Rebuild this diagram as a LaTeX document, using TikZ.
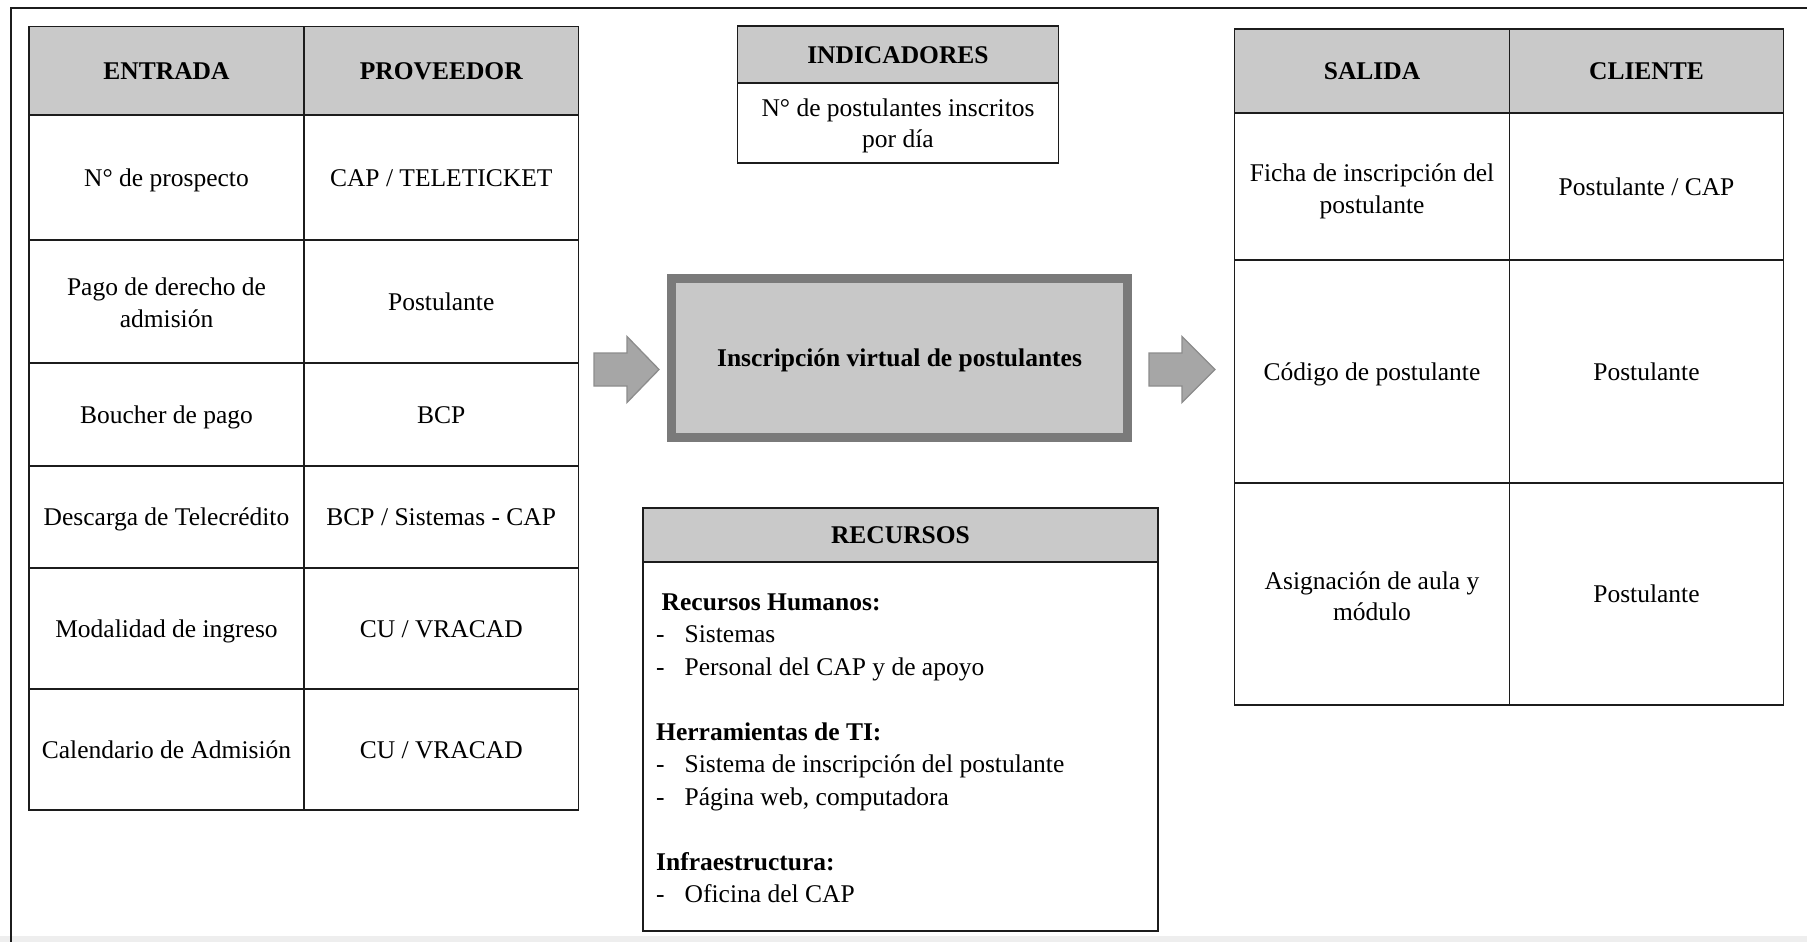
\documentclass[tikz,border=0pt]{standalone}
\usepackage{fontspec}
\setmainfont{LiberationSerif}[Extension=.ttf, UprightFont=*-Regular, BoldFont=*-Bold,
  ItalicFont=*-Italic, BoldItalicFont=*-BoldItalic]
\definecolor{headgray}{RGB}{201,201,201}
\definecolor{procfill}{RGB}{200,200,200}
\definecolor{procline}{RGB}{122,122,122}
\definecolor{arrfill}{RGB}{166,166,166}
\definecolor{arrline}{RGB}{140,140,140}
\definecolor{stripgray}{RGB}{238,238,238}
\definecolor{ink}{RGB}{28,28,28}
% line strut with the ascent/descent of the serif face, so every line is centred alike
\newcommand{\ls}{\rule[-5.5pt]{0pt}{28.2pt}}
% extra head room on the first line of two-line cells
\newcommand{\lshead}[1]{\rule{0pt}{#1}}
\begin{document}
\begin{tikzpicture}[x=1pt,y=-1pt,
  txt/.style={font=\fontsize{25.5}{31.5}\selectfont, text=black},
  boldtxt/.style={font=\fontsize{25.5}{31.5}\selectfont\bfseries, text=black},
  cell/.style={txt, draw=ink, line width=1.8pt, rectangle, anchor=north west,
    inner sep=0pt, outer sep=0pt, align=center, execute at begin node=\ls},
  headcell/.style={cell, fill=headgray, font=\fontsize{25.5}{31.5}\selectfont\bfseries},
  size/.style 2 args={minimum width=#1, minimum height=#2},
  process/.style={boldtxt, rectangle, draw=procline, fill=procfill, line width=9pt,
    inner sep=0pt, align=center, execute at begin node=\ls},
  blockarrow/.style={draw=arrline, fill=arrfill, line width=1.3pt, line join=miter},
  item/.style={txt, anchor=base west, inner sep=0pt},
  itemhead/.style={boldtxt, anchor=base west, inner sep=0pt},
  frame/.style={draw=ink, line width=2.6pt}
]
\useasboundingbox (0,0) rectangle (1807,942);

% page strip and outer frame
\fill[stripgray] (0,936) rectangle (1807,942);
\draw[frame] (11,942) -- (11,8) -- (1807,8);

% ---------- ENTRADA / PROVEEDOR ----------
\node[headcell, size={275pt}{88.5pt}] (hEnt) at (29,26.5) {ENTRADA};
\node[headcell, size={274.5pt}{88.5pt}] (hProv) at (304,26.5) {PROVEEDOR};

\node[cell, size={275pt}{125pt}] (e1) at (29,115) {N° de prospecto};
\node[cell, size={274.5pt}{125pt}] (p1) at (304,115) {CAP / TELETICKET};
\node[cell, size={275pt}{123pt}] (e2) at (29,240) {\lshead{25pt}Pago de derecho de\\\ls admisión};
\node[cell, size={274.5pt}{123pt}] (p2) at (304,240) {Postulante};
\node[cell, size={275pt}{103pt}] (e3) at (29,363) {Boucher de pago};
\node[cell, size={274.5pt}{103pt}] (p3) at (304,363) {BCP};
\node[cell, size={275pt}{102pt}] (e4) at (29,466) {Descarga de Telecrédito};
\node[cell, size={274.5pt}{102pt}] (p4) at (304,466) {BCP / Sistemas - CAP};
\node[cell, size={275pt}{121pt}] (e5) at (29,568) {Modalidad de ingreso};
\node[cell, size={274.5pt}{121pt}] (p5) at (304,568) {CU / VRACAD};
\node[cell, size={275pt}{121pt}] (e6) at (29,689) {Calendario de Admisión};
\node[cell, size={274.5pt}{121pt}] (p6) at (304,689) {CU / VRACAD};

% ---------- INDICADORES ----------
\node[headcell, size={321pt}{57pt}] (hInd) at (737.5,26) {INDICADORES};
\node[cell, size={321pt}{80pt}] (ind) at (737.5,83) {\lshead{23pt}N° de postulantes inscritos\\\ls por día};

% ---------- process ----------
\node[process, minimum width=456pt, minimum height=159pt] (proc) at (899.5,358)
  {Inscripción virtual de postulantes};

% block arrows into and out of the process
\coordinate (inArrow) at (594,369.5);
\coordinate (outArrow) at (1149,369.5);
\draw[blockarrow] (inArrow) ++(0,-16.5) -- ++(33,0) -- ++(0,-16.5) -- ++(32,33)
  -- ++(-32,33) -- ++(0,-16.5) -- ++(-33,0) -- cycle;
\draw[blockarrow] (outArrow) ++(0,-16.5) -- ++(33,0) -- ++(0,-16.5) -- ++(33,33)
  -- ++(-33,33) -- ++(0,-16.5) -- ++(-33,0) -- cycle;

% ---------- RECURSOS ----------
\node[headcell, size={515pt}{54pt}] (hRec) at (643,508) {RECURSOS};
\node[cell, size={515pt}{369pt}] (rec) at (643,562) {};

\node[itemhead] (r1) at (661.5,610) {Recursos Humanos:};
\node[item] (d2) at (656,642.5) {-};
\node[item] (r2) at (684.5,642.5) {Sistemas};
\node[item] (d3) at (656,675) {-};
\node[item] (r3) at (684.5,675) {Personal del CAP y de apoyo};
\node[itemhead] (r4) at (656,740) {Herramientas de TI:};
\node[item] (d5) at (656,772.5) {-};
\node[item] (r5) at (684.5,772.5) {Sistema de inscripción del postulante};
\node[item] (d6) at (656,805) {-};
\node[item] (r6) at (684.5,805) {Página web, computadora};
\node[itemhead] (r7) at (656,870) {Infraestructura:};
\node[item] (d8) at (656,902.5) {-};
\node[item] (r8) at (684.5,902.5) {Oficina del CAP};

% ---------- SALIDA / CLIENTE ----------
\node[headcell, size={275pt}{84pt}] (hSal) at (1234.5,29) {SALIDA};
\node[headcell, size={274pt}{84pt}] (hCli) at (1509.5,29) {CLIENTE};
\node[cell, size={275pt}{147pt}] (s1) at (1234.5,113) {\lshead{27.5pt}Ficha de inscripción del\\\ls postulante};
\node[cell, size={274pt}{147pt}] (c1) at (1509.5,113) {Postulante / CAP};
\node[cell, size={275pt}{223pt}] (s2) at (1234.5,260) {Código de postulante};
\node[cell, size={274pt}{223pt}] (c2) at (1509.5,260) {Postulante};
\node[cell, size={275pt}{222pt}] (s3) at (1234.5,483) {\lshead{27.5pt}Asignación de aula y\\\ls módulo};
\node[cell, size={274pt}{222pt}] (c3) at (1509.5,483) {Postulante};
\end{tikzpicture}
\end{document}
